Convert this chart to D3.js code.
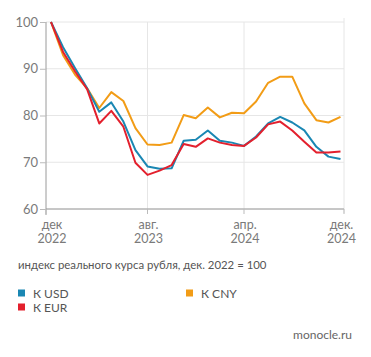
<!DOCTYPE html>
<html><head><meta charset="utf-8">
<script src="https://cdn.jsdelivr.net/npm/d3@7"></script>
<style>
body{margin:0;background:#fff;}
svg{display:block;font-family:Lato,"Open Sans",sans-serif;}
</style></head><body>
<svg id="c" width="371" height="357"></svg>
<script>
const months = ["2022-12","2023-01","2023-02","2023-03","2023-04","2023-05","2023-06","2023-07","2023-08","2023-09","2023-10","2023-11","2023-12","2024-01","2024-02","2024-03","2024-04","2024-05","2024-06","2024-07","2024-08","2024-09","2024-10","2024-11","2024-12"];
const usd = [100,94.6,90.1,85.8,80.8,82.8,78.7,72.6,69.1,68.6,68.7,74.6,74.8,76.8,74.6,74.2,73.5,75.5,78.3,79.7,78.5,76.8,73.3,71.2,70.7];
const eur = [100,93.6,89.4,85.6,78.3,81.0,77.6,69.9,67.3,68.2,69.4,73.9,73.3,75.1,74.2,73.7,73.5,75.3,78.1,78.7,76.8,74.4,72.1,72.1,72.3];
const cny = [100,92.9,88.7,85.8,81.6,85.0,83.1,77.3,73.8,73.7,74.2,80.1,79.4,81.7,79.6,80.6,80.5,83.0,87.0,88.3,88.3,82.6,79.0,78.5,79.7];
const yTicks = [60,70,80,90,100];
const xTickLabels = [["дек","2022"],["авг.","2023"],["апр.","2024"],["дек.","2024"]];
const xTickIdx = [0,8,16,24];
const seriesNames = ["К USD","К EUR","К CNY"];
const colors = {"К USD":"#1a87b3","К EUR":"#e3202d","К CNY":"#f29c16"};

const svg = d3.select("#c");
const pL=46,pR=344,pT=22,pB=209;
const x = d3.scaleLinear().domain([0,months.length-1]).range([51,340.5]);
const y = d3.scaleLinear().domain([60,100]).range([pB,pT]);

// horizontal grid
svg.append("g").selectAll("line").data(yTicks).join("line")
  .attr("x1",pL).attr("x2",pR).attr("y1",d=>y(d)).attr("y2",d=>y(d))
  .attr("stroke","#e6e6e6").attr("stroke-width",1);
// vertical grid
svg.append("g").selectAll("line").data([8,16]).join("line")
  .attr("x1",d=>x(d)).attr("x2",d=>x(d)).attr("y1",pT).attr("y2",pB)
  .attr("stroke","#e6e6e6");
svg.append("line").attr("x1",pR).attr("x2",pR).attr("y1",pT-4).attr("y2",pB+4).attr("stroke","#e6e6e6");

// axes
const yAxis = d3.axisLeft(y).tickValues(yTicks).tickSize(6).tickPadding(2);
const gy = svg.append("g").attr("transform",`translate(${pL},0)`).call(yAxis);
gy.select(".domain").attr("stroke","#9a9a9a").attr("d",`M0,${pT}V${pB+6}`);
gy.selectAll(".tick line").attr("stroke","#bbbbbb");
gy.selectAll("text").attr("fill","#7a7a7a").attr("font-size","13px").attr("font-family","Lato,sans-serif");

svg.append("line").attr("x1",pL).attr("x2",pR).attr("y1",pB).attr("y2",pB).attr("stroke","#9a9a9a");
const tickPos = [pL,x(8),x(16),pR];
svg.append("g").selectAll("line").data(tickPos).join("line")
  .attr("x1",d=>d).attr("x2",d=>d).attr("y1",pB).attr("y2",pB+5).attr("stroke","#bbbbbb");
const xg = svg.append("g").selectAll("g").data(xTickIdx).join("g");
xg.append("text").attr("x",d=>x(d)+1).attr("y",229).attr("text-anchor","middle").attr("fill","#7a7a7a").attr("font-size","12.5px").text((d,i)=>xTickLabels[i][0]);
xg.append("text").attr("x",d=>x(d)+1).attr("y",243).attr("text-anchor","middle").attr("fill","#7a7a7a").attr("font-size","12.5px").text((d,i)=>xTickLabels[i][1]);

// lines
const line = d3.line().x((d,i)=>x(i)).y(d=>y(d));
const data = [["К CNY",cny],["К USD",usd],["К EUR",eur]];
svg.append("g").selectAll("path").data(data).join("path")
  .attr("d",d=>line(d[1])).attr("fill","none").attr("stroke",d=>colors[d[0]])
  .attr("stroke-width",2).attr("stroke-linejoin","round");

// subtitle
svg.append("text").attr("x",18).attr("y",269).attr("fill","#555").attr("font-size","11.4px")
  .text("индекс реального курса рубля, дек. 2022 = 100");

// legend
const leg = [["К USD",18,293],["К EUR",18,307],["К CNY",186,293]];
const lg = svg.append("g").selectAll("g").data(leg).join("g");
lg.append("rect").attr("x",d=>d[1]).attr("y",d=>d[2]-3.5).attr("width",7).attr("height",7).attr("fill",d=>colors[d[0]]);
lg.append("text").attr("x",d=>d[1]+15).attr("y",d=>d[2]+4.5).attr("fill","#555").attr("font-size","12px").text(d=>d[0]);

svg.append("text").attr("x",352).attr("y",339).attr("text-anchor","end").attr("fill","#666").attr("font-size","12px").text("monocle.ru");
</script>
</body></html>
